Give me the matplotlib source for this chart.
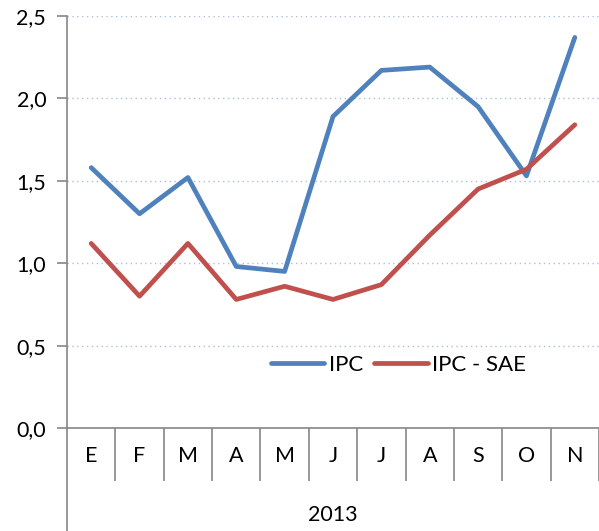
import matplotlib
matplotlib.use("Agg")
import matplotlib.pyplot as plt
from matplotlib.lines import Line2D

# datos
meses = ["E", "F", "M", "A", "M", "J", "J", "A", "S", "O", "N"]
ipc = [1.58, 1.30, 1.52, 0.98, 0.95, 1.89, 2.17, 2.19, 1.95, 1.53, 2.37]
ipc_sae = [1.12, 0.80, 1.12, 0.78, 0.86, 0.78, 0.87, 1.17, 1.45, 1.57, 1.84]
y_ticks = [0.0, 0.5, 1.0, 1.5, 2.0, 2.5]
anio = "2013"

AZUL = "#4f81bd"
ROJO = "#c0504d"
GRIS = "#868686"
FS = 15.5

plt.rcParams['font.family'] = ['Lato', 'DejaVu Sans']

W, H = 599, 531
fig = plt.figure(figsize=(W / 100, H / 100), dpi=100)
ax = fig.add_axes([67 / W, (H - 428) / H, (W - 67) / W, (428 - 16) / H])

x = list(range(len(meses)))
ax.plot(x, ipc, color=AZUL, lw=3.4, solid_joinstyle="round",
        solid_capstyle="round", label="IPC", zorder=3)
ax.plot(x, ipc_sae, color=ROJO, lw=3.4, solid_joinstyle="round",
        solid_capstyle="round", label="IPC - SAE", zorder=3)

ax.set_xlim(-0.5, len(meses) - 0.5)
ax.set_ylim(0, 2.5)

# rejilla punteada
for v in y_ticks[1:]:
    ax.axhline(v, color="#a9c0df", lw=1.0, ls=(0, (1, 2.5)), zorder=1)

ax.set_yticks(y_ticks)
ax.set_yticklabels([f"{v:.1f}".replace(".", ",") for v in y_ticks], fontsize=FS)
ax.tick_params(axis="y", direction="out", length=7, width=1.2, color=GRIS, pad=8)

# separadores de categoría y etiquetas
ax.set_xticks([i + 0.5 for i in x])
ax.set_xticklabels([])
ax.tick_params(axis="x", which="major", direction="out", length=38, width=1.2, color=GRIS)
ax.set_xticks(x, minor=True)
ax.set_xticklabels(meses, minor=True, fontsize=FS)
ax.tick_params(axis="x", which="minor", length=0, pad=13)

for s in ["top", "right"]:
    ax.spines[s].set_visible(False)
for s in ["left", "bottom"]:
    ax.spines[s].set_color(GRIS)
    ax.spines[s].set_linewidth(1.2)

# eje izquierdo prolongado hasta abajo
fig.add_artist(Line2D([67 / W, 67 / W], [0, (H - 428) / H], color=GRIS, lw=1.2))
fig.text((67 + W) / 2 / W, (H - 515) / H, anio, ha="center", va="center", fontsize=FS)

ax.legend(loc="center left", bbox_to_anchor=((260 - 67) / (W - 67), (428 - 365) / 412),
          frameon=False, ncol=2, fontsize=FS + 0.5, handlelength=2.4, handletextpad=0.2,
          columnspacing=0.5, borderpad=0)

fig.savefig("out.png", dpi=100)
